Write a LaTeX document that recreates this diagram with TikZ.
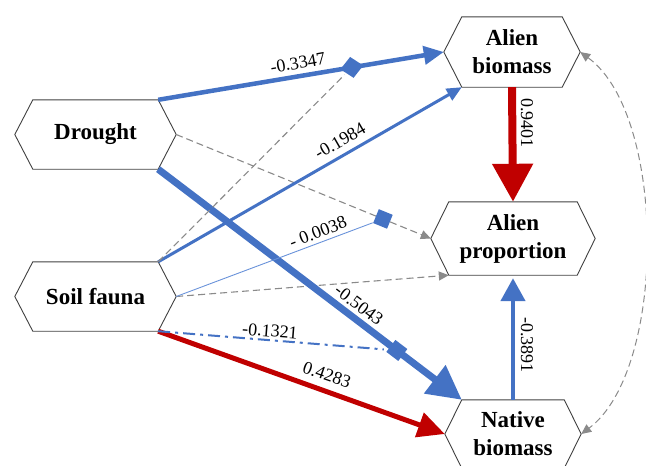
\documentclass[tikz,border=0pt]{standalone}
\usepackage{fontspec}
\setmainfont{Liberation Serif}
\usetikzlibrary{arrows.meta,shapes.geometric,calc}
\definecolor{cblue}{HTML}{4472C4}
\definecolor{cthin}{HTML}{6A93DA}
\definecolor{cred}{HTML}{C00000}
\definecolor{cgray}{HTML}{8A8A8A}
\newcommand\hexframe[2]{\draw[hexline] (#1.north west) -- (#1.north east) -- ([xshift=#2pt]#1.east) -- (#1.south east) -- (#1.south west) -- ([xshift=-#2pt]#1.west) -- cycle;}
\begin{document}
\begin{tikzpicture}[x=1pt,y=-1pt,
  box/.style={rectangle,inner sep=0pt,align=center,font=\bfseries\fontsize{23}{28}\selectfont},
  hexline/.style={draw=black!75,line width=0.9pt},
  lab/.style={font=\fontsize{18}{20}\selectfont,inner sep=0pt},
  gdash/.style={draw=cgray,line width=1.1pt,dash pattern=on 7pt off 4pt},
  gtip/.style={-{Triangle[length=10pt,width=9pt,fill=cgray]}},
  mdia/.style={diamond,fill=cblue,inner sep=0pt,minimum width=25pt,minimum height=23pt},
  msq/.style={rectangle,fill=cblue,inner sep=0pt,minimum size=15pt}
]
\clip (0,0) rectangle (646,466);

% boxes
\node[box,minimum width=125pt,minimum height=69pt] (dr) at (95.5,134.5) {Drought};
\node[box,minimum width=125pt,minimum height=69pt] (sf) at (95.5,296.5) {Soil fauna};
\node[box,minimum width=100pt,minimum height=70pt] (ab) at (512,52) {Alien\\biomass};
\node[box,minimum width=128pt,minimum height=73pt] (ap) at (513,238.5) {Alien\\proportion};
\node[box,minimum width=102pt,minimum height=68pt] (nb) at (513,434) {Native\\biomass};
\hexframe{dr}{18}
\hexframe{sf}{18}
\hexframe{ab}{18}
\hexframe{ap}{18}
\hexframe{nb}{17}

\coordinate (drR) at ([xshift=18pt]dr.east);
\coordinate (sfR) at ([xshift=18pt]sf.east);
\coordinate (abL) at ([xshift=-18pt]ab.west);
\coordinate (abR) at ([xshift=18pt]ab.east);
\coordinate (apL) at ([xshift=-18pt]ap.west);
\coordinate (nbL) at ([xshift=-17pt]nb.west);
\coordinate (nbR) at ([xshift=17pt]nb.east);

% dashed gray paths
\draw[gdash,gtip] (drR) -- node[pos=0.812,sloped,msq] (m2) {} (apL);
\draw[gdash,gtip] (sfR) -- (ap.south west);
\draw[draw=cgray,line width=1pt,dash pattern=on 7pt off 4pt,{Triangle[length=10pt,width=9pt,fill=cgray]}-{Triangle[length=10pt,width=9pt,fill=cgray]}]
  (abR) .. controls (667,115) and (667,370) .. (nbR);

% main effects
\draw[cblue,line width=3pt,-{Triangle[length=15pt,width=13pt]}] (sf.north east) -- (ab.south west);
\draw[cred,line width=5pt,-{Triangle[length=27pt,width=25pt]}] (sf.south east) -- (nbL);
\draw[cred,line width=8pt,-{Triangle[length=38pt,width=39pt]}] (ab.south) -- (ap.north);
\draw[cblue,line width=4.5pt,-{Triangle[length=23pt,width=24pt]},shorten >=3pt] (nb.north) -- (ap.south);

% paths carrying markers
\draw[cblue,line width=4.5pt,-{Triangle[length=20pt,width=18pt]}] (dr.north east) -- node[pos=0.678,sloped,mdia] (m1) {} (abL);
\draw[cblue,line width=7pt,-{Triangle[length=34pt,width=34pt]}] (dr.south east) -- node[pos=0.786,sloped,msq] (m3) {} (nb.north west);

% moderating paths
\draw[gdash] (sf.north east) -- (m1);
\draw[cthin,line width=0.9pt] (sfR) -- (m2);
\draw[cblue,line width=2pt,dash pattern=on 12pt off 5pt on 3pt off 5pt] (sf.south east) -- (m3);

% labels
\node[lab,rotate=10] (l1) at (298,63) {-0.3347};
\node[lab,rotate=30] (l2) at (340,141) {-0.1984};
\node[lab,rotate=21] (l3) at (318,232) {- 0.0038};
\node[lab,rotate=-37] (l4) at (359,305) {-0.5043};
\node[lab,rotate=-4.5] (l5) at (270,331) {-0.1321};
\node[lab,rotate=-19] (l6) at (327,375) {0.4283};
\node[lab,rotate=-90] (l7) at (527,123) {0.9401};
\node[lab,rotate=-90] (l8) at (527,345) {-0.3891};
\end{tikzpicture}
\end{document}
